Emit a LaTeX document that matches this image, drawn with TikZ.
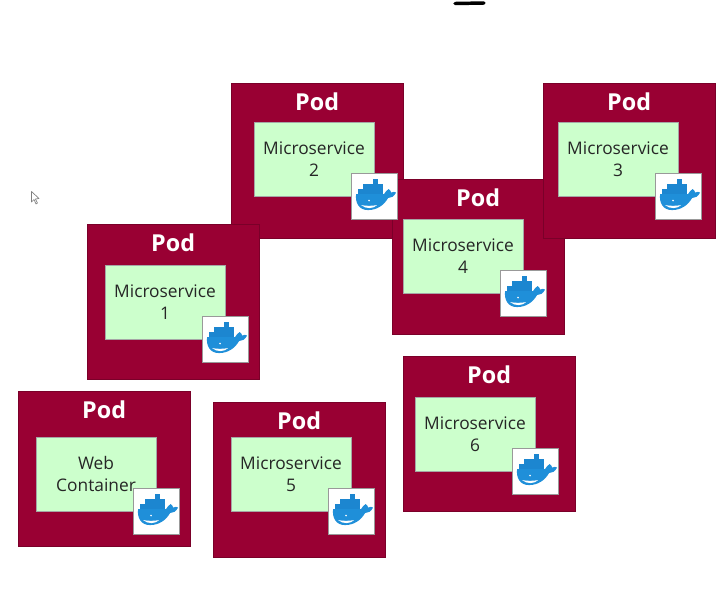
\documentclass[tikz,border=0pt]{standalone}
\usepackage{fontspec}
\setmainfont{Open Sans}
\definecolor{podred}{HTML}{990033}
\definecolor{svcgreen}{HTML}{CCFFCC}
\definecolor{whaleblue}{HTML}{1F8FD9}
\definecolor{crateblue}{HTML}{1C86D0}
\tikzset{
  podbox/.style={draw=podred!80!black, fill=podred, anchor=north west, minimum width=128.75pt, minimum height=116pt, inner sep=0pt},
  podtitle/.style={text=white, font=\fontsize{17.5}{20}\selectfont\bfseries, inner sep=0pt},
  svcbox/.style={draw=gray!70, line width=0.3pt, fill=svcgreen, anchor=north west, minimum width=89.75pt, minimum height=55.25pt, align=center, text=black!85, inner sep=0pt, font=\fontsize{13}{16.5}\selectfont},
  dockbox/.style={draw=gray!80, line width=0.4pt, fill=white, minimum width=34.25pt, minimum height=34.25pt, inner sep=0pt},
  whale/.pic={
    %hull and tail
    \fill[whaleblue] (-18,-2) -- (10,-2) .. controls (11,-4) and (13,-6) .. (14.5,-7) .. controls (16,-6) and (17,-5) .. (17,-3.5)
      .. controls (19,-4.5) and (21,-4.5) .. (22,-3.5) .. controls (20,0.5) and (17,2) .. (14,2)
      .. controls (10,9) and (3,14) .. (-6,14) .. controls (-15,14) and (-19,7) .. (-18,-2) -- cycle;
    %crates
    \foreach \cx in {-16,-11,-6,-1,4} \fill[crateblue] (\cx,-7) rectangle +(4.9,5.2);
    \foreach \cx in {-11,-6,-1,4} \fill[crateblue] (\cx,-12) rectangle +(4.9,4.9);
    \fill[crateblue] (-1,-17) rectangle +(4.9,4.9);
    %belly and eye
    \fill[white] (-13,9) .. controls (-8,10) and (-2,10) .. (3,9) .. controls (0,12.5) and (-8,13.5) .. (-13,9) -- cycle;
    \fill[white] (-5,4.5) circle (0.9);
  }
}
\begin{document}
\begin{tikzpicture}[x=0.75pt, y=-0.75pt]
\useasboundingbox (0,0) rectangle (725,590);
%pods with their titles and services
\foreach \name/\podx/\pody/\svcx/\svcy/\svctext in {
  two/231/83/254/122/{Microservice\\2},
  four/392/179/403/219/{Microservice\\4},
  three/543/83/558/122/{Microservice\\3},
  one/87/224/105/265/{Microservice\\1},
  web/18/391/36/437/{Web\\Container},
  five/213/402/231/437/{Microservice\\5},
  six/403/356/415/397/{Microservice\\6}}{
   \node[podbox] (pod\name) at (\podx,\pody) {};
   \node[podtitle] (title\name) at ([yshift=-14pt]pod\name.north) {Pod};
   \node[svcbox] (svc\name) at (\svcx,\svcy) {\svctext};
}
%docker badges go on top of every pod
\foreach \name in {two,four,three,one,web,five,six}{
   \node[dockbox] (dock\name) at (svc\name.south east) {};
   \pic at (dock\name) {whale};
}
%stray pen stroke and mouse pointer
\draw[line width=2.6pt, line cap=round] (455,3.5) -- (484,3);
\draw[gray, line width=0.5pt, fill=white, line join=round] (31.5,191.5) -- (31.5,202) -- (34,199.5) -- (36,204) -- (37.5,203) -- (35.5,199) -- (39,198.5) -- cycle;
\end{tikzpicture}
\end{document}
